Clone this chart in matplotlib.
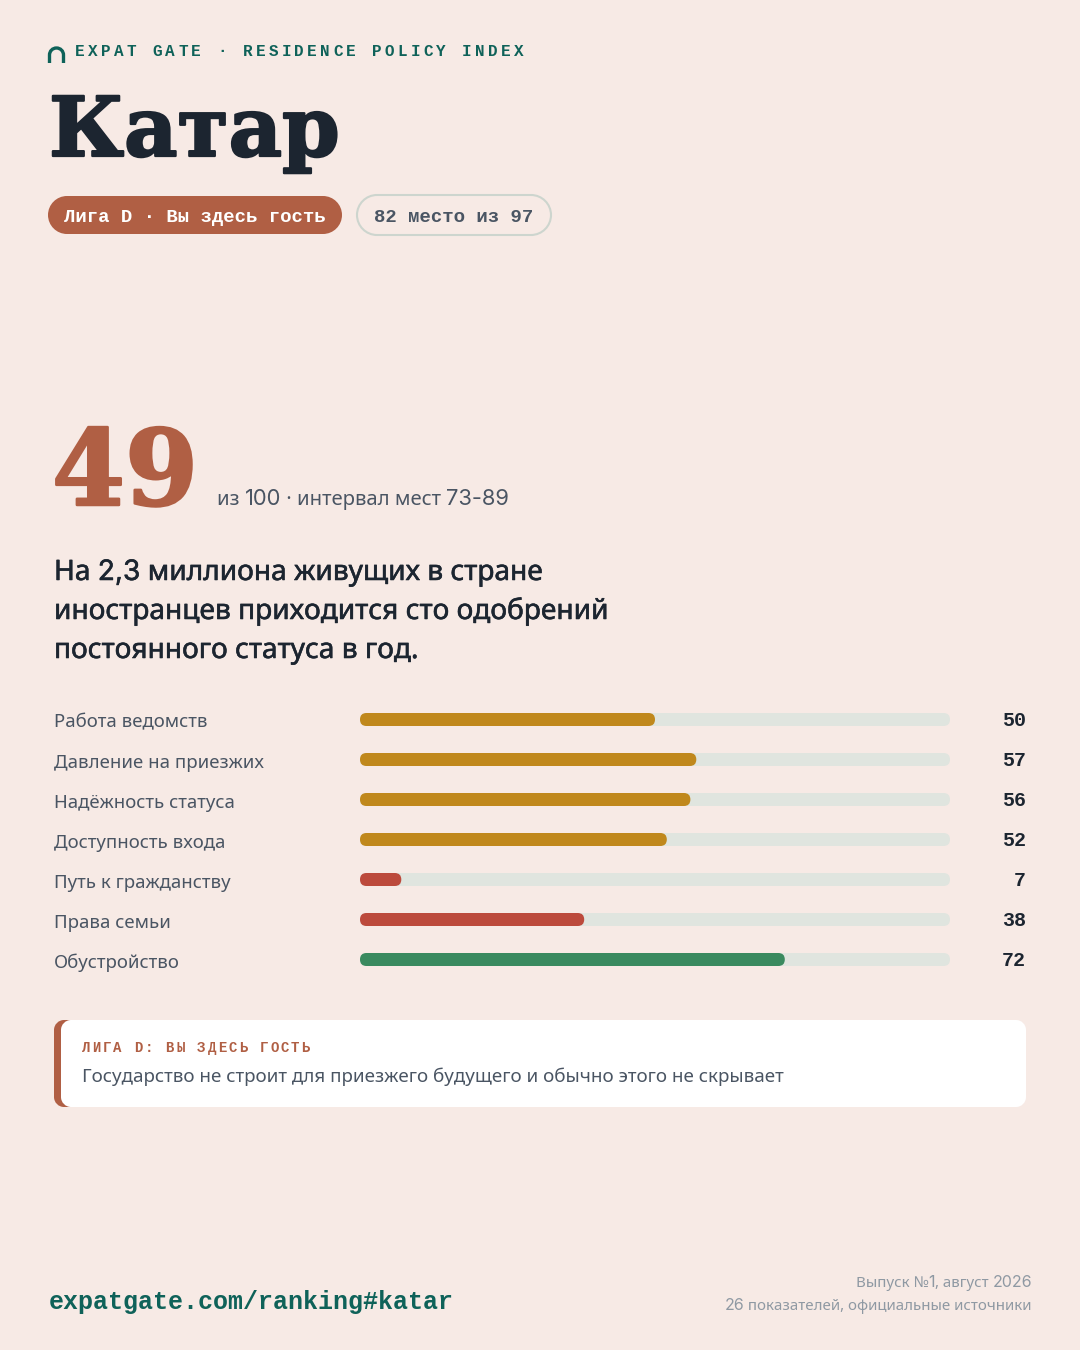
import matplotlib
matplotlib.use('Agg')
import matplotlib.pyplot as plt
import matplotlib.patheffects as pe
from matplotlib.patches import FancyBboxPatch, PathPatch
from matplotlib.path import Path

categories = ['Работа ведомств', 'Давление на приезжих', 'Надёжность статуса',
              'Доступность входа', 'Путь к гражданству', 'Права семьи', 'Обустройство']
scores = [50, 57, 56, 52, 7, 38, 72]
bar_colors = ['#C0881C', '#C0881C', '#C0881C', '#C0881C', '#BC4A3C', '#BC4A3C', '#3A8A5F']

BG = '#F7EAE5'
TRACK = '#E0E5DF'
RUST = '#B05F44'
TEAL = '#0F6259'
INK = '#1C2530'
SLATE = '#4A5563'
GREY = '#8F99A3'
MONO = 'Liberation Mono'
SANS = 'Noto Sans'
NUM = 'Inter'
SERIF = 'DejaVu Serif'


def px(size):
    return size * 0.72


def spaced(ax, x, y, s, step, size, color):
    # no letter spacing in matplotlib, so place each char
    for i, ch in enumerate(s):
        ax.text(x + i * step, y, ch, fontsize=px(size), color=color, family=MONO,
                weight='bold', va='center', ha='left')


def chain(ax, x, y, parts, color, right=False, stroke=0):
    # digits come from another font in the original, so lay the runs end to end
    rend = fig.canvas.get_renderer()
    cur = x
    made = []
    for s, fam, size in parts:
        t = ax.text(cur, y, s, fontsize=px(size), family=fam, color=color, va='baseline')
        if stroke:
            t.set_path_effects([pe.withStroke(linewidth=stroke, foreground=color)])
        w = t.get_window_extent(rend).width
        made.append(t)
        cur += w
    if right:
        shift = cur - x
        for t in made:
            t.set_x(t.get_position()[0] - shift)


def round_box(ax, x0, y0, x1, y1, r, **kw):
    # true circular corners, FancyBboxPatch's quadratic ones look too square here
    k = r * 0.448
    verts = [(x0 + r, y0), (x1 - r, y0),
             (x1 - k, y0), (x1, y0 + k), (x1, y0 + r),
             (x1, y1 - r),
             (x1, y1 - k), (x1 - k, y1), (x1 - r, y1),
             (x0 + r, y1),
             (x0 + k, y1), (x0, y1 - k), (x0, y1 - r),
             (x0, y0 + r),
             (x0, y0 + k), (x0 + k, y0), (x0 + r, y0), (x0 + r, y0)]
    codes = [Path.MOVETO, Path.LINETO,
             Path.CURVE4, Path.CURVE4, Path.CURVE4,
             Path.LINETO,
             Path.CURVE4, Path.CURVE4, Path.CURVE4,
             Path.LINETO,
             Path.CURVE4, Path.CURVE4, Path.CURVE4,
             Path.LINETO,
             Path.CURVE4, Path.CURVE4, Path.CURVE4, Path.CLOSEPOLY]
    ax.add_patch(PathPatch(Path(verts, codes), **kw))


fig = plt.figure(figsize=(10.8, 13.5), dpi=100, facecolor=BG)

# page overlay in pixel coordinates
page = fig.add_axes([0, 0, 1, 1])
page.set_xlim(0, 1080)
page.set_ylim(1350, 0)
page.axis('off')

# arch icon
arch = Path([(49.5, 63), (49.5, 55), (49.5, 51), (52.6, 48), (56.5, 48),
             (60.4, 48), (63.5, 51), (63.5, 55), (63.5, 63)],
            [Path.MOVETO, Path.LINETO, Path.CURVE4, Path.CURVE4, Path.CURVE4,
             Path.CURVE4, Path.CURVE4, Path.CURVE4, Path.LINETO])
page.add_patch(PathPatch(arch, fc='none', ec=TEAL, lw=2.4, capstyle='butt'))
spaced(page, 75, 51, 'EXPAT GATE · RESIDENCE POLICY INDEX', 12.9, 16, TEAL)

page.text(49, 156, 'Катар', fontsize=px(82.5), family=SERIF, weight='bold', color=INK, va='baseline',
          path_effects=[pe.withStroke(linewidth=1.6, foreground=INK)])

round_box(page, 48, 196, 342, 234, 19, fc=RUST, ec='none')
page.text(64, 215, 'Лига D · Вы здесь гость', fontsize=px(19), family=MONO, weight='bold',
          color='white', va='center_baseline')
round_box(page, 357, 195, 551, 235, 20, fc='none', ec='#CDD5CE', lw=1.5)
page.text(374, 215, '82 место из 97', fontsize=px(19), family=MONO, weight='bold',
          color=SLATE, va='center_baseline')

page.text(52, 505, '49', fontsize=px(105), family=SERIF, weight='bold', color=RUST, va='baseline',
          path_effects=[pe.withStroke(linewidth=1.8, foreground=RUST)])
chain(page, 217, 505, [('из ', SANS, 20.3), ('100', NUM, 22), (' · интервал мест ', SANS, 20.3),
                       ('73-89', NUM, 22)], SLATE)

chain(page, 54, 580, [('На ', SANS, 28.1), ('2,3', NUM, 28.1),
                      (' миллиона живущих в стране', SANS, 28.1)], INK, stroke=0.4)
chain(page, 54, 619, [('иностранцев приходится сто одобрений', SANS, 28.1)], INK, stroke=0.4)
chain(page, 54, 658, [('постоянного статуса в год.', SANS, 28.1)], INK, stroke=0.4)

# bars
bars_ax = fig.add_axes([360 / 1080, 1 - 979.5 / 1350, 590 / 1080, 280 / 1350])
bars_ax.set_xlim(0, 100)
bars_ax.set_ylim(6.5, -0.5)
bars_ax.axis('off')
bar_h = 13 / 40
r_x = 6.5 / 5.9
aspect = (6.5 / 40) / r_x
for i, (name, val, col) in enumerate(zip(categories, scores, bar_colors)):
    for width, c, z in ((100, TRACK, 1), (val, col, 2)):
        bars_ax.add_patch(FancyBboxPatch((0, i - bar_h / 2), width, bar_h,
                                         boxstyle='round,pad=0,rounding_size=%g' % r_x,
                                         mutation_aspect=aspect, fc=c, ec='none', zorder=z))
    bars_ax.text(-51.9, i + 0.08, name, fontsize=px(18.6), family=SANS, color=SLATE, va='center')
    bars_ax.text(112.9, i + 0.03, str(val), fontsize=px(20), family=MONO, weight='bold', color=INK,
                 va='center', ha='right')

# callout
round_box(page, 54, 1020, 90, 1107, 10, fc=RUST, ec='none')
round_box(page, 61, 1020, 1026, 1107, 10, fc='white', ec='none')
spaced(page, 82, 1048, 'ЛИГА D: ВЫ ЗДЕСЬ ГОСТЬ', 10.45, 14, RUST)
page.text(82, 1082, 'Государство не строит для приезжего будущего и обычно этого не скрывает',
          fontsize=px(18.8), family=SANS, color=SLATE, va='baseline')

# footer
page.text(49, 1309, 'expatgate.com/ranking#katar', fontsize=px(25), family=MONO, weight='bold',
          color=TEAL, va='baseline')
chain(page, 1032, 1287, [('Выпуск №', SANS, 15.1), ('1', NUM, 16), (', август ', SANS, 15.1),
                         ('2026', NUM, 16)], GREY, right=True)
chain(page, 1032, 1310, [('26', NUM, 16), (' показателей, официальные источники', SANS, 15.1)],
      GREY, right=True)

fig.savefig('out.png', dpi=100, facecolor=BG)
